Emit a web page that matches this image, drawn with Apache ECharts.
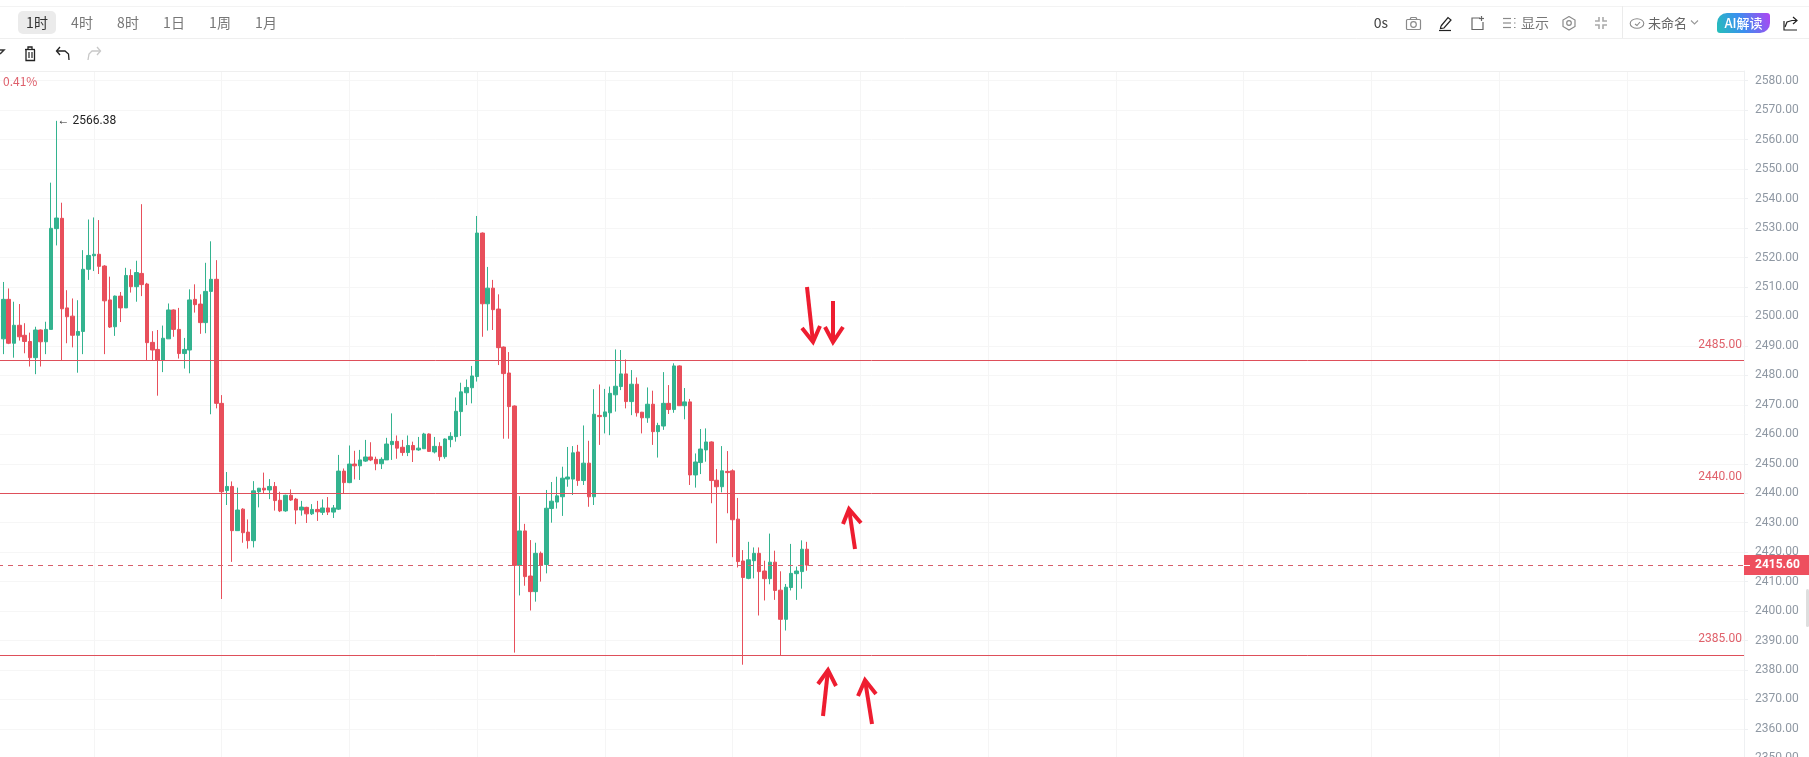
<!DOCTYPE html>
<html>
<head>
<meta charset="utf-8">
<style>html,body{margin:0;padding:0;background:#fff;overflow:hidden}#c{width:1809px;height:757px}</style>
<script src="https://cdn.jsdelivr.net/npm/echarts@6/dist/echarts.min.js"></script>
</head>
<body>
<div id="c"></div>
<script>
const opens=[2495.6,2492.4,2505.8,2490.9,2497.0,2493.6,2491.5,2486.0,2495.4,2491.4,
2495.6,2529.8,2533.3,2502.9,2500.1,2493.6,2494.9,2516.0,2520.6,2521.1,
2517.1,2505.6,2496.5,2506.9,2502.9,2513.9,2510.1,2514.6,2511.0,2491.2,
2488.8,2485.2,2492.4,2502.2,2495.6,2487.4,2488.6,2505.8,2504.2,2497.9,
2508.5,2512.6,2470.5,2440.9,2442.3,2427.3,2434.6,2426.8,2423.9,2440.5,
2441.7,2441.1,2442.3,2437.6,2434.0,2439.3,2438.0,2434.3,2435.2,2433.0,
2434.5,2433.5,2435.0,2433.6,2434.6,2447.5,2443.6,2449.9,2449.3,2450.9,
2452.3,2451.5,2450.0,2451.3,2456.5,2457.6,2455.6,2453.8,2456.2,2454.7,
2455.1,2460.1,2454.0,2455.9,2452.4,2458.2,2459.2,2467.7,2474.1,2475.8,
2479.6,2528.3,2504.3,2509.6,2502.5,2489.6,2480.8,2469.6,2415.5,2427.2,
2411.9,2406.6,2419.6,2415.8,2434.8,2437.0,2438.8,2444.8,2444.8,2454.0,
2444.3,2450.2,2438.8,2466.4,2466.0,2467.3,2473.4,2476.2,2480.5,2471.1,
2477.0,2467.5,2465.6,2470.2,2460.9,2462.8,2470.5,2468.4,2483.2,2469.7,
2471.0,2446.2,2450.4,2454.7,2457.4,2444.4,2442.2,2447.4,2447.6,2431.2,
2417.0,2411.1,2417.1,2419.6,2413.6,2411.0,2416.6,2407.1,2397.2,2408.0,
2412.7,2413.4,2421.0];
const closes=[2492.4,2505.8,2490.9,2497.0,2493.1,2491.5,2486.0,2495.4,2491.4,2495.6,
2529.9,2533.4,2502.6,2499.9,2493.6,2494.9,2516.0,2520.7,2521.1,2517.0,
2505.3,2496.4,2506.9,2502.9,2513.9,2510.1,2514.9,2510.8,2491.1,2488.6,
2485.2,2492.6,2502.2,2495.6,2487.4,2488.8,2505.6,2504.0,2497.9,2508.5,
2512.6,2470.5,2440.5,2442.3,2427.3,2434.3,2426.6,2423.9,2440.8,2441.7,
2441.1,2442.3,2437.5,2434.0,2439.3,2437.7,2434.3,2435.3,2433.0,2434.5,
2433.7,2435.0,2433.6,2435.0,2447.5,2443.6,2449.9,2449.3,2451.3,2452.3,
2451.3,2450.0,2451.5,2456.7,2457.6,2455.3,2453.8,2456.2,2454.7,2455.3,
2460.1,2454.2,2455.9,2452.4,2458.4,2459.3,2467.8,2474.4,2475.9,2479.8,
2528.3,2504.3,2509.6,2502.3,2489.4,2480.6,2469.4,2415.5,2427.2,2411.7,
2406.6,2419.6,2415.5,2434.9,2437.3,2439.1,2445.1,2445.5,2453.7,2444.3,
2450.2,2438.8,2466.8,2466.0,2467.6,2473.9,2476.3,2480.5,2471.1,2477.0,
2467.3,2465.6,2470.2,2460.9,2463.0,2470.5,2468.4,2483.2,2469.7,2471.0,
2446.2,2450.6,2455.0,2457.4,2444.3,2442.2,2447.6,2447.0,2431.0,2416.8,
2411.4,2417.4,2419.6,2413.4,2411.0,2416.6,2407.0,2397.2,2408.1,2412.8,
2413.6,2421.0,2415.6];
const lows=[2489.7,2487.2,2490.6,2486.0,2491.8,2487.5,2483.0,2480.4,2483.0,2487.2,
2495.6,2524.1,2485.2,2490.9,2489.5,2480.9,2487.2,2512.4,2515.4,2514.4,
2487.2,2496.1,2493.4,2498.1,2502.9,2508.1,2505.0,2506.9,2485.2,2485.2,
2473.1,2481.1,2492.4,2493.1,2485.7,2482.3,2480.7,2501.3,2494.1,2494.3,
2466.8,2468.8,2404.1,2436.0,2416.7,2427.3,2423.2,2421.2,2421.6,2435.2,
2440.0,2438.0,2434.1,2433.6,2433.7,2437.4,2429.5,2432.4,2429.9,2432.6,
2430.6,2432.6,2432.6,2431.6,2434.3,2440.0,2443.4,2444.7,2444.5,2450.6,
2450.9,2447.8,2448.2,2451.3,2451.3,2451.7,2452.7,2452.6,2450.6,2454.4,
2455.1,2454.0,2453.5,2451.0,2451.7,2455.6,2457.5,2459.4,2469.9,2470.5,
2477.9,2493.1,2495.2,2495.4,2483.5,2458.5,2458.5,2385.9,2405.3,2408.6,
2400.2,2403.2,2410.0,2412.8,2430.0,2434.8,2432.3,2442.2,2439.4,2442.5,
2442.8,2435.4,2436.0,2456.4,2460.3,2459.7,2467.7,2475.0,2468.8,2466.5,
2466.0,2460.3,2463.9,2456.4,2452.1,2461.5,2466.9,2467.3,2469.7,2465.1,
2442.8,2441.9,2446.5,2450.7,2436.6,2423.0,2440.3,2433.2,2418.3,2414.8,
2381.8,2410.8,2411.1,2398.5,2403.6,2409.1,2403.8,2385.0,2393.4,2407.0,
2403.8,2407.6,2413.7];
const highs=[2497.6,2511.7,2509.5,2505.0,2504.2,2497.7,2494.5,2496.5,2495.6,2498.2,
2545.4,2566.38,2538.6,2508.9,2506.1,2505.5,2522.5,2532.9,2533.6,2532.7,
2517.4,2513.5,2507.1,2508.3,2516.5,2516.0,2518.9,2538.1,2511.4,2495.0,
2495.4,2496.9,2504.4,2502.4,2502.9,2492.7,2509.2,2510.9,2507.5,2518.2,
2525.5,2519.1,2473.3,2447.2,2444.0,2441.9,2434.9,2431.1,2444.1,2441.8,
2447.0,2444.8,2443.8,2440.5,2439.5,2441.3,2438.4,2437.4,2435.4,2436.3,
2437.4,2437.9,2438.7,2436.0,2453.0,2448.4,2456.2,2454.4,2454.7,2458.1,
2457.3,2452.4,2452.2,2458.8,2467.1,2459.6,2458.1,2459.6,2457.5,2459.1,
2460.5,2460.3,2459.1,2457.3,2458.6,2460.7,2472.5,2477.5,2478.6,2483.2,
2534.1,2528.5,2516.8,2512.4,2507.5,2489.8,2487.9,2469.8,2439.0,2429.6,
2424.1,2423.2,2420.2,2441.1,2443.8,2445.6,2449.0,2455.7,2456.0,2456.4,
2463.0,2457.8,2475.3,2476.9,2475.4,2476.2,2488.8,2488.6,2485.4,2481.8,
2479.3,2467.6,2475.9,2474.8,2463.9,2481.1,2476.7,2484.1,2483.4,2475.7,
2472.0,2453.5,2461.8,2462.0,2457.6,2448.2,2456.0,2454.3,2448.1,2438.4,
2420.7,2423.5,2421.6,2421.6,2417.1,2426.3,2420.5,2413.5,2409.2,2422.8,
2415.1,2424.0,2423.5];
const levels=[2485,2440,2385];
const lastPrice=2415.6;
const peakIndex=11, peakValue=2566.38;
const periods=['1时','4时','8时','1日','1周','1月'];
const slotCount=329;
const slots=Array.from({length:slotCount},(_,i)=>String(i));
const priceMin=2350, priceMax=2583.3, priceStep=10;

const UP='#33B38F', DOWN='#E84F5B', LEVEL='#DE4F5A', ANNOT='#EE1D30';
const candles=opens.map((o,i)=>[o,closes[i],lows[i],highs[i]]);

function pl(points,color,w,extra){return Object.assign({type:'polyline',silent:true,z:100,shape:{points},style:{stroke:color,lineWidth:w,fill:null,lineJoin:'miter',lineCap:'butt'}},extra||{});}
function txt(x,y,text,color,size,align,weight){return {type:'text',silent:true,z:101,x,y,style:{text,fill:color,font:(weight||'normal')+' '+size+'px "Noto Sans CJK SC","Roboto",sans-serif',textAlign:align||'center',textVerticalAlign:'middle'}};}
function rect(x,y,w,h,style,r){return {type:'rect',silent:true,z:100,shape:{x,y,width:w,height:h,r:r||0},style};}
function arrow(base,tip,a,b){return [pl([base,tip],ANNOT,4),pl([a,tip,b],ANNOT,4)];}
const G='#8a8a8a', K='#222222';
const graphics=[
  pl([[0,6.5],[1809,6.5]],'#f3f3f3',1),
  pl([[0,38.5],[1809,38.5]],'#efefef',1),
  pl([[0,71.5],[1744,71.5]],'#efefef',1),
  pl([[1622.5,6],[1622.5,38]],'#ebebeb',1),
  rect(18,11,38,23,{fill:'#ebebeb'},5),
  txt(37,23,periods[0],'#333',14),
  txt(82,23,periods[1],'#777',14),
  txt(128,23,periods[2],'#777',14),
  txt(174,23,periods[3],'#777',14),
  txt(220,23,periods[4],'#777',14),
  txt(266,23,periods[5],'#777',14),
  pl([[0,54],[4,50],[0,50]],'#333',1.5),
  pl([[25,49.5],[35,49.5]],K,1.3),
  pl([[28,49],[28,47],[32,47],[32,49]],K,1.3),
  pl([[26,50],[26,60.5],[34.5,60.5],[34.5,50]],K,1.3),
  pl([[29,52],[29,58]],K,1.2), pl([[32,52],[32,58]],K,1.2),
  pl([[60,47],[56.5,51],[60,55]],K,1.3),
  pl([[57,51],[65,51],[68.5,54],[69,60]],K,1.3),
  pl([[97,47],[100.5,51],[97,55]],'#c8c8c8',1.3),
  pl([[100,51],[92,51],[89,54],[88,60]],'#c8c8c8',1.3),
  txt(3,81.5,'0.41%','#DE5F6B',12,'left'),
  txt(1381,23,'0s','#444',14),
  rect(1406.5,19.5,14,10,{fill:null,stroke:G,lineWidth:1.2},1),
  pl([[1410,19.5],[1411,17.5],[1416,17.5],[1417,19.5]],G,1.2),
  {type:'circle',silent:true,z:100,shape:{cx:1413.5,cy:24.5,r:2.8},style:{fill:null,stroke:G,lineWidth:1.2}},
  pl([[1441,26],[1448,17.5],[1451,20],[1444,28],[1440.5,28.5],[1441,26]],K,1.2),
  pl([[1439,30.5],[1451,30.5]],K,1.2),
  pl([[1480,18],[1472,18],[1472,29.5],[1483,29.5],[1483,22]],'#666',1.2),
  pl([[1481.5,16],[1481.5,21]],'#666',1.2), pl([[1479,18.5],[1484,18.5]],'#666',1.2),
  pl([[1503,18.5],[1511,18.5]],G,1.2), pl([[1503,23],[1511,23]],G,1.2), pl([[1503,27.5],[1511,27.5]],G,1.2),
  pl([[1514,18.5],[1515.5,18.5]],G,1.2), pl([[1514,23],[1515.5,23]],G,1.2), pl([[1514,27.5],[1515.5,27.5]],G,1.2),
  txt(1535,23,'显示','#777',14),
  pl([[1569,16.5],[1575,20],[1575,26.5],[1569,30],[1563,26.5],[1563,20],[1569,16.5]],G,1.2),
  {type:'circle',silent:true,z:100,shape:{cx:1569,cy:23,r:2.3},style:{fill:null,stroke:G,lineWidth:1.2}},
  pl([[1599,17],[1599,21],[1595,21]],'#aaa',1.6), pl([[1603,17],[1603,21],[1607,21]],'#aaa',1.6),
  pl([[1599,29],[1599,25],[1595,25]],'#aaa',1.6), pl([[1603,29],[1603,25],[1607,25]],'#aaa',1.6),
  {type:'ellipse',silent:true,z:100,shape:{cx:1637,cy:23.5,rx:6.8,ry:4.8},style:{fill:null,stroke:G,lineWidth:1.1}},
  pl([[1635,24],[1637,25.5],[1640,22]],G,1.1),
  txt(1667.5,23,'未命名','#666',13),
  pl([[1691,20.5],[1694.5,24],[1698,20.5]],'#999',1.1),
  rect(1717,13,53,20,{fill:{type:'linear',x:0,y:1,x2:1,y2:0,colorStops:[{offset:0,color:'#25C0B8'},{offset:0.45,color:'#3A8FEF'},{offset:1,color:'#B044F2'}]}},[10,3,10,3]),
  txt(1743.5,23,'AI解读','#ffffff',13,'center','500'),
  pl([[1784,21],[1784,30],[1797,30]],K,1.2),
  pl([[1785,27],[1787,22],[1792,20.5],[1797,20.5]],K,1.2),
  pl([[1793,17],[1797,20.5],[1793,24]],K,1.2),
  rect(1806,589,3,38,{fill:'#dedede'},2),
  pl([[1744,565.5],[1750,565.5]],'#ffffff',1),
  ...arrow([807,287],[813,342],[802,328],[820,326]),
  ...arrow([833,301],[833,342],[825,327],[843,327]),
  ...arrow([855,549],[849,509],[843,524],[861,523]),
  ...arrow([823,716],[828,670],[818,684],[836,686]),
  ...arrow([872,724],[865,680],[858,696],[876,694])
];

const chart=echarts.init(document.getElementById('c'),null,{renderer:'canvas'});
chart.setOption({
  animation:false,
  backgroundColor:'#ffffff',
  grid:{left:-2,right:65,top:71,bottom:-1.4,containLabel:false,outerBoundsMode:'none'},
  tooltip:{show:false},
  xAxis:{type:'category',data:slots,boundaryGap:false,
    axisLine:{show:false},axisTick:{show:false},axisLabel:{show:false},
    splitLine:{show:true,interval:i=>i%24===18,lineStyle:{color:'#f5f5f5',width:1}}},
  yAxis:{type:'value',position:'right',min:priceMin,max:priceMax,interval:priceStep,scale:true,
    axisLine:{show:true,lineStyle:{color:'#eef0f2'}},
    axisTick:{show:true,length:4,lineStyle:{color:'#eef0f2'}},
    axisLabel:{color:'#8F98A3',fontFamily:'Roboto',fontSize:12,margin:11,showMaxLabel:false,
      formatter:v=>v.toFixed(2)},
    splitLine:{show:true,lineStyle:{color:'#f6f6f6',width:1}}},
  series:[{type:'candlestick',data:candles,barWidth:4,clip:true,
    itemStyle:{color:UP,color0:DOWN,borderColor:UP,borderColor0:DOWN,borderWidth:1},
    markPoint:{silent:true,symbol:'circle',symbolSize:0,
      data:[{coord:[String(peakIndex),peakValue],value:peakValue}],
      label:{show:true,position:'right',distance:1,color:'#222',fontFamily:'Roboto',fontSize:12,
        formatter:p=>'← '+p.value.toFixed(2)}},
    markLine:{silent:true,symbol:'none',animation:false,
      data:[
        ...levels.map(v=>({yAxis:v,lineStyle:{color:LEVEL,width:1,type:'solid'},
          label:{show:true,position:'insideEndTop',distance:[2,10],color:'#E0616B',fontFamily:'Roboto',fontSize:12,formatter:p=>p.value.toFixed(2)}})),
        {yAxis:lastPrice,lineStyle:{color:'#D8606C',width:1,type:[5,5]},
          label:{show:true,position:'end',distance:0,color:'#fff',fontFamily:'Roboto',fontSize:12,fontWeight:'bold',
            backgroundColor:'#EE4F5E',padding:[4,11,4,11],formatter:p=>p.value.toFixed(2)}}
      ]}
  }],
  graphic:{elements:graphics}
});
</script>
</body>
</html>
